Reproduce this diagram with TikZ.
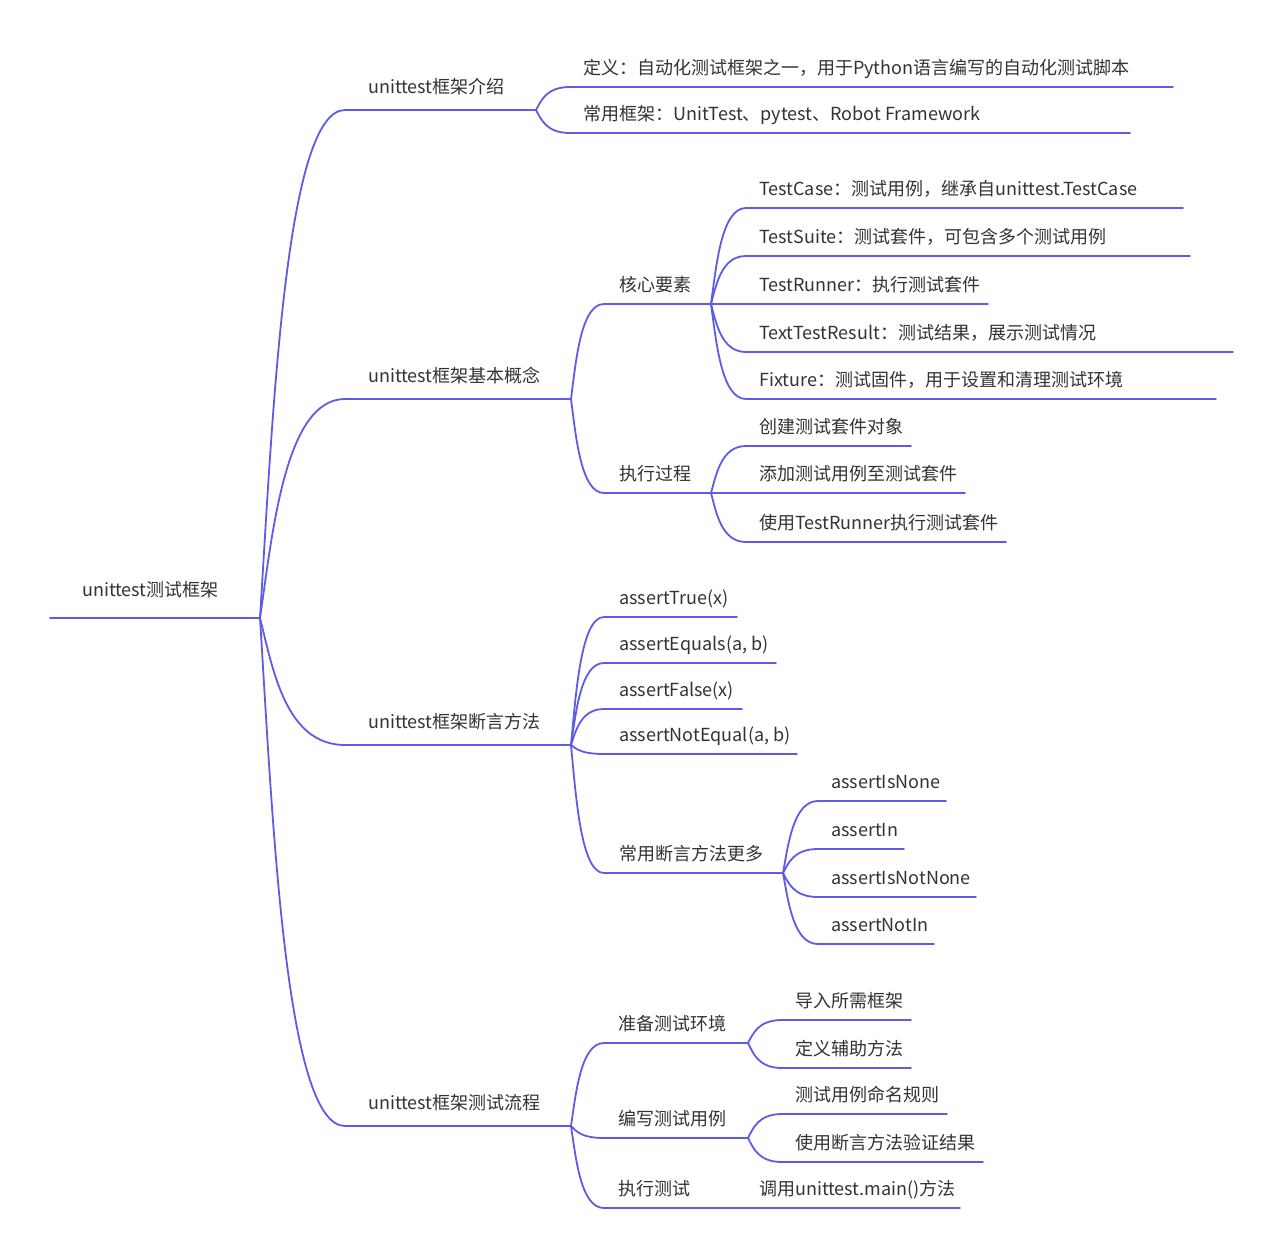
\documentclass[tikz,border=0pt]{standalone}
\usepackage{fontspec}
\setmainfont{Noto Sans CJK SC}
\usetikzlibrary{calc}
\definecolor{lineblue}{RGB}{94,92,230}
\definecolor{txt}{RGB}{51,51,51}
\tikzset{
  ul/.style={draw=lineblue, line width=1.8pt, line cap=round},
  lbl/.style={anchor=base west, inner sep=0pt, text=txt, font=\fontsize{18}{21}\selectfont}
}
\newcommand\mmtopic[7]{%
  \coordinate (#1-l) at (#2,#4);
  \coordinate (#1-r) at (#3,#4);
  \node[lbl] (#1) at (#5,#4-#6) {#7};
  \draw[ul] (#1-l) -- (#1-r);
}
\newcommand\mmconn[2]{%
  \draw[ul] let \p1=(#1-r), \p2=(#2-l) in (#1-r) .. controls ({\x1+0.15*(\x2-\x1)},{\y1+0.4*(\y2-\y1)}) and ({\x1+0.3*(\x2-\x1)},\y2) .. (#2-l);
}
\begin{document}
\begin{tikzpicture}[x=1pt,y=-1pt]
\useasboundingbox[fill=white] (0,0) rectangle (1283,1259);
% root
\mmtopic{root}{50}{260}{618}{82}{21.4}{unittest测试框架}
% level 1
\mmtopic{a}{345}{536}{110}{368}{16.4}{unittest框架介绍}
\mmtopic{b}{345}{571}{399}{368}{16.4}{unittest框架基本概念}
\mmtopic{c}{345}{571}{745}{368}{16.4}{unittest框架断言方法}
\mmtopic{d}{345}{571}{1126}{368}{16.4}{unittest框架测试流程}
% a children
\mmtopic{a1}{570}{1173}{87}{583}{12.4}{定义：自动化测试框架之一，用于Python语言编写的自动化测试脚本}
\mmtopic{a2}{570}{1130}{133}{583}{12.4}{常用框架：UnitTest、pytest、Robot Framework}
% b children
\mmtopic{b1}{604}{711}{304}{619}{12.4}{核心要素}
\mmtopic{b2}{604}{711}{493}{619}{12.4}{执行过程}
\mmtopic{b11}{746}{1183}{208}{759}{12.4}{TestCase：测试用例，继承自unittest.TestCase}
\mmtopic{b12}{746}{1190}{256}{759}{12.4}{TestSuite：测试套件，可包含多个测试用例}
\mmtopic{b13}{746}{988}{304}{759}{12.4}{TestRunner：执行测试套件}
\mmtopic{b14}{746}{1233}{352}{759}{12.4}{TextTestResult：测试结果，展示测试情况}
\mmtopic{b15}{746}{1216}{399}{759}{12.4}{Fixture：测试固件，用于设置和清理测试环境}
\mmtopic{b21}{746}{911}{446}{759}{12.4}{创建测试套件对象}
\mmtopic{b22}{746}{965}{493}{759}{12.4}{添加测试用例至测试套件}
\mmtopic{b23}{746}{1006}{542}{759}{12.4}{使用TestRunner执行测试套件}
% c children
\mmtopic{c1}{604}{737}{617}{619}{12.4}{assertTrue(x)}
\mmtopic{c2}{604}{776}{663}{619}{12.4}{assertEquals(a, b)}
\mmtopic{c3}{604}{742}{709}{619}{12.4}{assertFalse(x)}
\mmtopic{c4}{604}{797}{754}{619}{12.4}{assertNotEqual(a, b)}
\mmtopic{c5}{604}{783}{873}{619}{12.4}{常用断言方法更多}
\mmtopic{c51}{818}{946}{801}{831}{12.4}{assertIsNone}
\mmtopic{c52}{818}{904}{849}{831}{12.4}{assertIn}
\mmtopic{c53}{818}{976}{897}{831}{12.4}{assertIsNotNone}
\mmtopic{c54}{818}{934}{944}{831}{12.4}{assertNotIn}
% d children
\mmtopic{d1}{604}{748}{1043}{618}{12.4}{准备测试环境}
\mmtopic{d2}{604}{748}{1138}{618}{12.4}{编写测试用例}
\mmtopic{d3}{604}{748}{1208}{618}{12.4}{执行测试}
\mmtopic{d11}{782}{911}{1020}{795}{12.4}{导入所需框架}
\mmtopic{d12}{782}{911}{1068}{795}{12.4}{定义辅助方法}
\mmtopic{d21}{782}{947}{1114}{795}{12.4}{测试用例命名规则}
\mmtopic{d22}{782}{983}{1162}{795}{12.4}{使用断言方法验证结果}
\mmtopic{d31}{748}{960}{1208}{759}{12.4}{调用unittest.main()方法}
% connectors
\foreach \ma/\mb in {root/a,root/b,root/c,root/d,
  a/a1,a/a2,b/b1,b/b2,
  b1/b11,b1/b12,b1/b13,b1/b14,b1/b15,
  b2/b21,b2/b22,b2/b23,
  c/c1,c/c2,c/c3,c/c4,c/c5,
  c5/c51,c5/c52,c5/c53,c5/c54,
  d/d1,d/d2,d/d3,
  d1/d11,d1/d12,d2/d21,d2/d22,d3/d31}{\mmconn{\ma}{\mb}}
\end{tikzpicture}
\end{document}
